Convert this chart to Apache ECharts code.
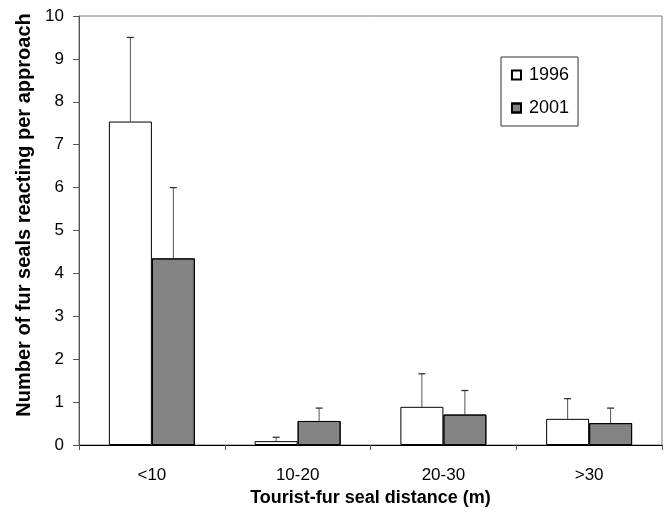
<!DOCTYPE html>
<html>
<head>
<meta charset="utf-8">
<script src="https://cdn.jsdelivr.net/npm/echarts@6/dist/echarts.min.js"></script>
<style>html,body{margin:0;padding:0;background:#fff}#c{width:664px;height:516px}</style>
</head>
<body>
<div id="c"></div>
<script>
var categories = ['<10', '10-20', '20-30', '>30'];
var seriesNames = ['1996', '2001'];
var values1996 = [7.54, 0.09, 0.89, 0.61];
var values2001 = [4.35, 0.56, 0.71, 0.51];
var errTop1996 = [9.5, 0.18, 1.66, 1.08];
var errTop2001 = [6.0, 0.86, 1.27, 0.86];
var yTicks = [0, 1, 2, 3, 4, 5, 6, 7, 8, 9, 10];
var yAxisTitle = 'Number of fur seals reacting per approach';
var xAxisTitle = 'Tourist-fur seal distance (m)';

var BAR_FRAC = 0.295;
var FONT = '"Liberation Sans", Arial, sans-serif';

function errSeries(name, tops, vals, side) {
  return {
    type: 'custom',
    name: name + ' err',
    z: 1,
    silent: true,
    data: categories.map(function (c, i) { return [i, vals[i], tops[i]]; }),
    renderItem: function (params, api) {
      var i = api.value(0);
      var base = api.coord([i, api.value(1)]);
      var top = api.coord([i, api.value(2)]);
      var band = api.size([1, 0])[0];
      var x = base[0] + side * band * BAR_FRAC / 2;
      var half = 3.5;
      return {
        type: 'group',
        children: [
          { type: 'line', shape: { x1: x, y1: base[1], x2: x, y2: top[1] }, style: { stroke: '#555', lineWidth: 1 } },
          { type: 'line', shape: { x1: x - half, y1: top[1], x2: x + half, y2: top[1] }, style: { stroke: '#333', lineWidth: 1.3 } }
        ]
      };
    }
  };
}

var chart = echarts.init(document.getElementById('c'));
chart.setOption({
  animation: false,
  backgroundColor: '#fff',
  textStyle: { fontFamily: FONT },
  grid: { left: 79, top: 16, right: 2, bottom: 71, show: true, borderColor: '#777', borderWidth: 1, containLabel: false },
  graphic: [{
    type: 'text',
    x: 24,
    y: 215,
    rotation: Math.PI / 2,
    style: { text: yAxisTitle, fontFamily: FONT, fontSize: 20, fontWeight: 'bold', fill: '#000', align: 'center', verticalAlign: 'middle' }
  }],
  legend: {
    data: [{ name: '1996', icon: 'rect' }, { name: '2001', icon: 'rect' }],
    orient: 'vertical',
    left: 501,
    top: 57,
    itemWidth: 9,
    itemHeight: 9,
    itemGap: 15,
    padding: [9, 9, 9, 10],
    borderColor: '#333',
    borderWidth: 1,
    textStyle: { fontFamily: FONT, fontSize: 18, color: '#000', padding: [0, 0, 0, 3] }
  },
  xAxis: {
    type: 'category',
    data: categories,
    name: xAxisTitle,
    nameLocation: 'middle',
    nameGap: 44,
    nameTextStyle: { fontFamily: FONT, fontSize: 18, fontWeight: 'bold', color: '#000' },
    axisLine: { lineStyle: { color: '#000', width: 1 } },
    axisTick: { show: true, length: 5, lineStyle: { color: '#555' } },
    axisLabel: { fontFamily: FONT, fontSize: 17, color: '#000', margin: 22 },
    splitLine: { show: false }
  },
  yAxis: {
    type: 'value',
    min: 0,
    max: 10,
    interval: 1,
    axisLine: { show: true, lineStyle: { color: '#555', width: 1 } },
    axisTick: { show: true, length: 6, lineStyle: { color: '#555' } },
    axisLabel: { fontFamily: FONT, fontSize: 17, color: '#000', margin: 15,
      formatter: function (v) { return yTicks.indexOf(v) >= 0 ? String(v) : ''; } },
    splitLine: { show: false }
  },
  series: [
    {
      type: 'bar', name: seriesNames[0], data: values1996,
      barWidth: (BAR_FRAC * 100) + '%', barGap: '0%',
      itemStyle: { color: '#fff', borderColor: '#000', borderWidth: 1 }, z: 2
    },
    {
      type: 'bar', name: seriesNames[1], data: values2001,
      barWidth: (BAR_FRAC * 100) + '%', barGap: '0%',
      itemStyle: { color: '#858585', borderColor: '#000', borderWidth: 1,
        decal: { symbol: 'rect', symbolSize: 0.5, dashArrayX: [1, 1], dashArrayY: [1, 1], color: 'rgba(40,40,40,0.35)', rotation: 0 } }, z: 2
    },
    errSeries('1996', errTop1996, values1996, -1),
    errSeries('2001', errTop2001, values2001, 1)
  ]
});
</script>
</body>
</html>
